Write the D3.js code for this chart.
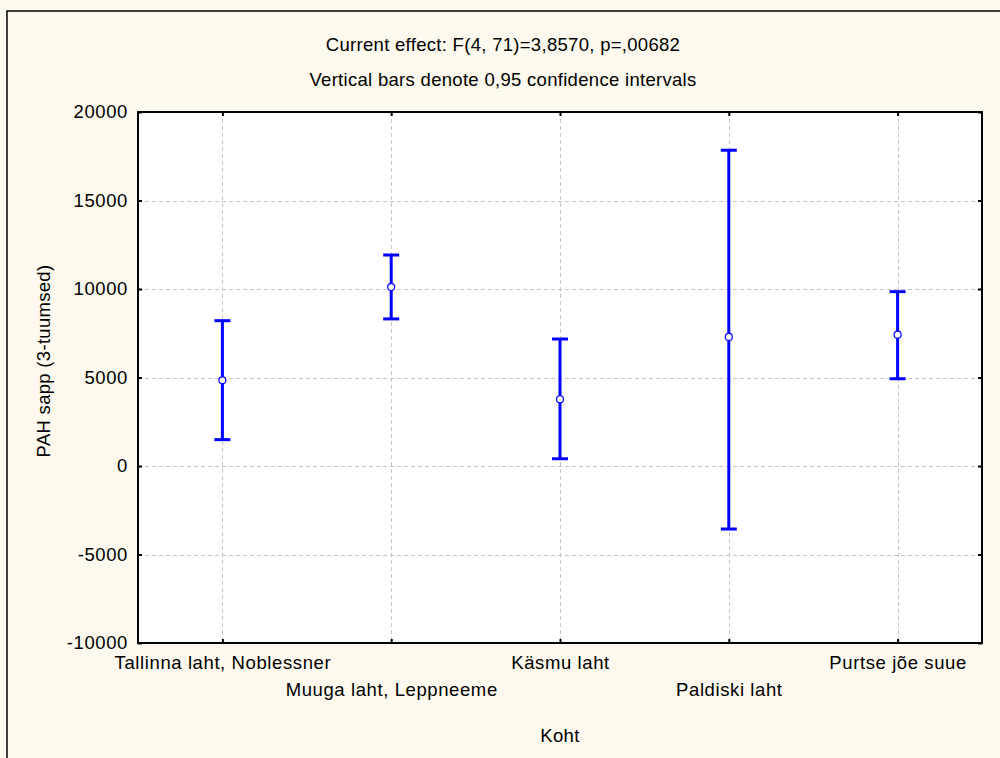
<!DOCTYPE html>
<html>
<head>
<meta charset="utf-8">
<script src="https://cdn.jsdelivr.net/npm/d3@7"></script>
<style>
  html, body { margin: 0; padding: 0; background: #fdf9ee; }
  svg { display: block; }
  text { font-family: Arial, "Liberation Sans", sans-serif; fill: #000; }
</style>
</head>
<body>
<svg id="chart" width="1000" height="758"></svg>
<script>
// ---- data ----
const categories = ["Tallinna laht, Noblessner", "Muuga laht, Leppneeme", "Käsmu laht", "Paldiski laht", "Purtse jõe suue"];
const means = [4840, 10110, 3770, 7290, 7420];
const upper = [8210, 11920, 7175, 17840, 9850];
const lower = [1490, 8310, 410, -3560, 4930];
const yTicks = [-10000, -5000, 0, 5000, 10000, 15000, 20000];
const titleLines = ["Current effect: F(4, 71)=3,8570, p=,00682", "Vertical bars denote 0,95 confidence intervals"];
const xTitle = "Koht";
const yTitle = "PAH sapp (3-tuumsed)";

const rows = categories.map((c, i) => ({ cat: c, mean: means[i], hi: upper[i], lo: lower[i] }));

const svg = d3.select("#chart");
const W = 1000, H = 758;
const plot = { left: 138, right: 982, top: 112, bottom: 643 };

// outer frame
svg.append("rect").attr("x", 0).attr("y", 0).attr("width", W).attr("height", H).attr("fill", "#fdf9ee");
svg.append("rect").attr("x", 7).attr("y", 11).attr("width", 1200).attr("height", 1000)
  .attr("fill", "none").attr("stroke", "#000").attr("stroke-width", 1.5);

const x = d3.scalePoint().domain(categories).range([plot.left, plot.right]).padding(0.5);
const y = d3.scaleLinear().domain([-10000, 20000]).range([plot.bottom, plot.top]);

// plot background
svg.append("rect").attr("x", plot.left).attr("y", plot.top)
  .attr("width", plot.right - plot.left).attr("height", plot.bottom - plot.top).attr("fill", "#fff");

// grid
const grid = svg.append("g").attr("stroke", "#c4c4c4").attr("stroke-width", 1).attr("stroke-dasharray", "4,3");
grid.selectAll("line.h").data(yTicks.filter(v => v > -10000 && v < 20000)).join("line")
  .attr("x1", plot.left).attr("x2", plot.right)
  .attr("y1", d => Math.round(y(d)) + 0.5).attr("y2", d => Math.round(y(d)) + 0.5);
grid.selectAll("line.v").data(categories).join("line")
  .attr("y1", plot.top).attr("y2", plot.bottom)
  .attr("x1", d => Math.round(x(d)) + 0.5).attr("x2", d => Math.round(x(d)) + 0.5);

// axes
const fs = "18.5px";
const yAxis = svg.append("g").attr("transform", `translate(${plot.left},0)`)
  .call(d3.axisLeft(y).tickValues(yTicks).tickFormat(d => String(d)).tickSizeInner(-4).tickSizeOuter(0).tickPadding(10));
const yAxisR = svg.append("g").attr("transform", `translate(${plot.right},0)`)
  .call(d3.axisRight(y).tickValues(yTicks).tickFormat("").tickSizeInner(-4).tickSizeOuter(0));
const xAxis = svg.append("g").attr("transform", `translate(0,${plot.bottom})`)
  .call(d3.axisBottom(x).tickSizeInner(-4).tickSizeOuter(0).tickPadding(13));
const xAxisT = svg.append("g").attr("transform", `translate(0,${plot.top})`)
  .call(d3.axisTop(x).tickFormat("").tickSizeInner(-4).tickSizeOuter(0));

[yAxis, yAxisR, xAxis, xAxisT].forEach(g => {
  g.select(".domain").remove();
  g.selectAll(".tick line").attr("stroke", "#000").attr("stroke-width", 2);
  g.selectAll("text").attr("font-size", fs).attr("font-family", "Arial, 'Liberation Sans', sans-serif")
    .attr("fill", "#000").style("letter-spacing", "0.6px");
});
xAxis.selectAll(".tick text").attr("dy", (d, i) => i % 2 === 0 ? "0.71em" : "2.17em");

// plot frame
svg.append("rect").attr("x", plot.left).attr("y", plot.top)
  .attr("width", plot.right - plot.left).attr("height", plot.bottom - plot.top)
  .attr("fill", "none").attr("stroke", "#000").attr("stroke-width", 2);

// error bars
const blue = "#0000ff";
const eb = svg.append("g").selectAll("g").data(rows).join("g");
eb.append("line").attr("x1", d => x(d.cat)).attr("x2", d => x(d.cat))
  .attr("y1", d => y(d.hi)).attr("y2", d => y(d.lo)).attr("stroke", blue).attr("stroke-width", 3);
eb.append("line").attr("x1", d => x(d.cat) - 8).attr("x2", d => x(d.cat) + 8)
  .attr("y1", d => y(d.hi)).attr("y2", d => y(d.hi)).attr("stroke", blue).attr("stroke-width", 3);
eb.append("line").attr("x1", d => x(d.cat) - 8).attr("x2", d => x(d.cat) + 8)
  .attr("y1", d => y(d.lo)).attr("y2", d => y(d.lo)).attr("stroke", blue).attr("stroke-width", 3);
eb.append("circle").attr("cx", d => x(d.cat)).attr("cy", d => y(d.mean)).attr("r", 3.5)
  .attr("fill", "#fff").attr("stroke", blue).attr("stroke-width", 1.2);

// titles
svg.selectAll("text.title").data(titleLines).join("text").attr("class", "title")
  .attr("x", 503).attr("y", (d, i) => 51 + i * 35).attr("text-anchor", "middle")
  .attr("font-size", fs).style("letter-spacing", "0.3px").text(d => d);

svg.append("text").attr("x", 560).attr("y", 742).attr("text-anchor", "middle")
  .attr("font-size", fs).style("letter-spacing", "0.3px").text(xTitle);

svg.append("text").attr("transform", "translate(50,361) rotate(-90)").attr("text-anchor", "middle")
  .attr("font-size", fs).style("letter-spacing", "0.3px").text(yTitle);
</script>
</body>
</html>
